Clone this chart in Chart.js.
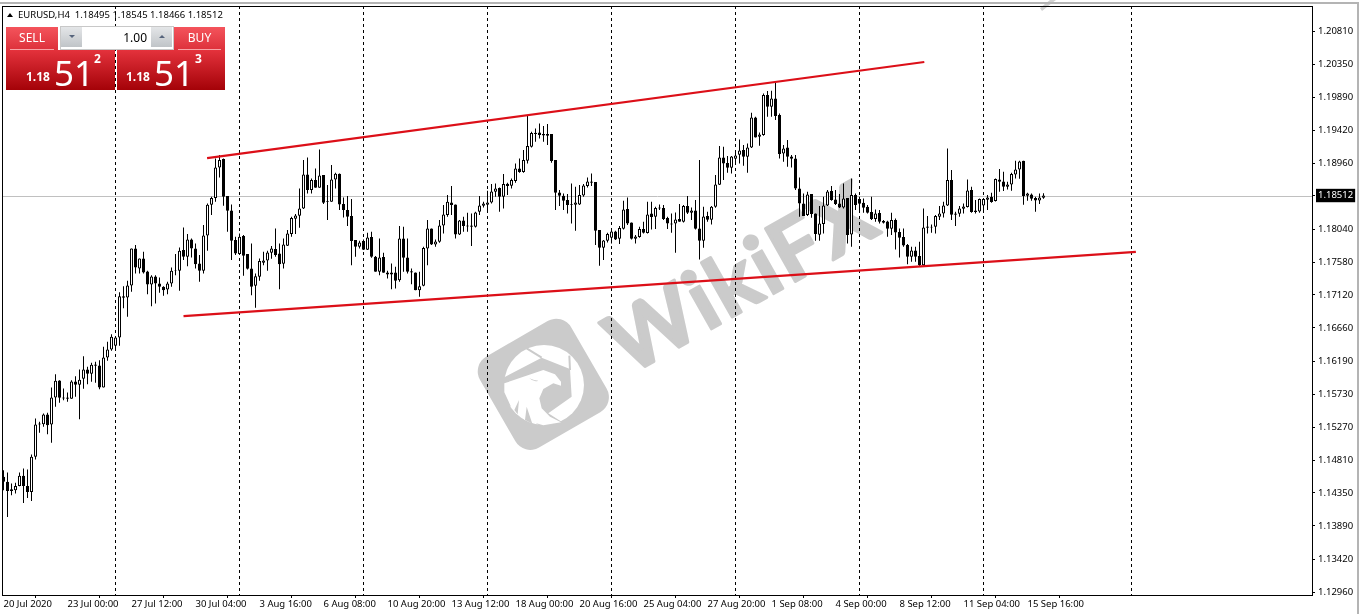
<!DOCTYPE html>
<html>
<head>
<meta charset="utf-8">
<title>EURUSD,H4</title>
<script src="https://cdn.jsdelivr.net/npm/chart.js@4"></script>
<style>
  html, body { margin: 0; padding: 0; background: #fff; }
  body { position: relative; width: 1363px; height: 614px; overflow: hidden; font-family: "Noto Sans", sans-serif; }
  #mark, #chart, #head, #panel, .edge { position: absolute; }
  #mark { left: 0; top: 0; }
  #chart { left: 0; top: 0; }
  .edge { background: #b4b4b4; }
  #head { left: 7px; top: 8px; font-size: 9.5px; line-height: 13px; color: #000; white-space: pre; }
  #head i { display: inline-block; width: 0; height: 0; border: 3px solid transparent; border-bottom: 4px solid #000; border-top: 0; margin: 0 5px 1px 0; }
  #panel { left: 6px; top: 26px; width: 219px; height: 64px; color: #fff; }
  #panel div { position: absolute; }
  .btn { top: 1px; height: 24px; background: linear-gradient(#f4545c, #dc2f39); font-size: 12px; line-height: 21px; text-align: center; }
  .btn span { position: absolute; left: 4px; right: 4px; top: 22px; height: 1px; background: #f7a3a6; }
  .price { top: 24px; height: 40px; background: linear-gradient(#e4323c, #a40208); }
  .big { font-size: 35px; line-height: 40px; top: 3px; }
  .small { font-size: 12px; font-weight: 700; top: 19px; line-height: 16px; }
  .sup { font-size: 12px; font-weight: 700; top: 1px; line-height: 16px; }
  #lots { left: 54px; top: 0; width: 86px; height: 22px; padding-right: 26px; background: #fff; border: 1px solid #c8c8c8; color: #000; font-size: 12px; line-height: 21px; text-align: right; z-index: 2; }
  .spin { top: 1px; width: 21px; height: 20px; background: linear-gradient(#e4e6e8, #c0c4c8); }
</style>
</head>
<body>
<svg id="mark" width="1363" height="614" xmlns="http://www.w3.org/2000/svg">
  <g transform="translate(475,315) scale(0.3333)" fill="#cbcbcb">
    <rect x="-158" y="-158" width="316" height="316" rx="52" transform="translate(205,208) rotate(-30)"/>
    <circle cx="207" cy="210" r="120" fill="#fff"/>
    <path d="M85 188 L200 128 L285 162 L290 245 L220 295 L262 322 L200 335 L85 260 Z"/>
    <path d="M155 100 L200 128 M283 122 L285 165" stroke="#cbcbcb" stroke-width="6" fill="none"/>
    <path d="M88 205 L205 165 L240 178 L258 200 L258 212 L235 205 L205 222 L193 250 L200 280 L225 305 L258 322 L205 331 L150 315 L108 275 L88 232 Z" fill="#fff"/>
    <path d="M163 190 Q178 203 190 197 Q178 197 163 190 Z M128 298 L132 255 L118 285 Z M172 326 L155 275 L150 315 Z"/>
  </g>
  <text transform="translate(628,376) rotate(-29.5)" font-family="Lato" font-weight="700" font-size="84" fill="#cbcbcb" stroke="#cbcbcb" stroke-width="3" stroke-linejoin="round" textLength="292" lengthAdjust="spacing">WikiFX</text>
  <path d="M1042 11 L1052 3 L1056 0 L1050 0 L1040 8 Z" fill="#d2d2d2"/>
</svg>
<canvas id="chart" width="1363" height="614"></canvas>
<div class="edge" style="left:0;top:2px;width:1359px;height:2px"></div>
<div class="edge" style="left:1357px;top:2px;width:2px;height:612px"></div>
<div id="head"><i></i>EURUSD,H4  1.18495 1.18545 1.18466 1.18512</div>
<div id="panel">
  <div class="btn" style="left:0;width:52px">SELL<span></span></div>
  <div class="btn" style="left:168px;width:51px">BUY<span></span></div>
  <div class="price" style="left:0;width:109px">
    <div class="small" style="left:20px">1.18</div>
    <div class="big" style="left:48px">51</div>
    <div class="sup" style="left:88px">2</div>
  </div>
  <div class="price" style="left:111px;width:108px">
    <div class="small" style="left:9px">1.18</div>
    <div class="big" style="left:37px">51</div>
    <div class="sup" style="left:78px">3</div>
  </div>
  <div id="lots">1.00</div>
  <div class="spin" style="left:55px;z-index:3"></div>
  <div class="spin" style="left:145px;z-index:3"></div>
  <div style="left:63px;top:9px;z-index:4;border:3px solid transparent;border-top:3px solid #56647c;border-bottom:0"></div>
  <div style="left:153px;top:9px;z-index:4;border:3px solid transparent;border-bottom:3px solid #56647c;border-top:0"></div>
</div>
<script>
const opens = [
1.14575,1.14505,1.14402,1.14388,1.14449,1.14589,1.14449,1.14365,1.14855,1.15321,
1.15312,1.15447,1.15307,1.15685,1.15923,1.15685,1.15685,1.15667,1.15909,1.15863,
1.15947,1.16077,1.16017,1.16147,1.16133,1.15825,1.16245,1.16357,1.16409,1.16525,
1.17104,1.17085,1.17253,1.17771,1.17491,1.17631,1.17449,1.17267,1.17379,1.17281,
1.17235,1.17197,1.17281,1.17468,1.17459,1.17748,1.17655,1.17897,1.17771,1.17561,
1.17459,1.17953,1.18383,1.18476,1.18905,1.19022,1.18504,1.18303,1.17888,1.17692,
1.17944,1.17692,1.17491,1.17249,1.17375,1.17571,1.17603,1.17711,1.17762,1.17701,
1.17557,1.17809,1.17972,1.18187,1.18229,1.18331,1.18807,1.18588,1.18728,1.18621,
1.18798,1.18434,1.18425,1.18737,1.18817,1.18392,1.18308,1.18224,1.17888,1.17795,
1.17874,1.17753,1.17930,1.17655,1.17445,1.17650,1.17435,1.17407,1.17435,1.17328,
1.17911,1.17645,1.17454,1.17435,1.17188,1.17249,1.17771,1.18051,1.17827,1.17865,
1.18093,1.18238,1.18415,1.18387,1.17967,1.18163,1.18093,1.18093,1.18075,1.18285,
1.18369,1.18383,1.18415,1.18565,1.18616,1.18495,1.18677,1.18649,1.18714,1.18891,
1.18840,1.18999,1.19195,1.19391,1.19395,1.19372,1.19372,1.19372,1.19008,1.18555,
1.18509,1.18448,1.18392,1.18383,1.18387,1.18513,1.18644,1.18709,1.18700,1.18028,
1.17781,1.17879,1.17921,1.18009,1.17907,1.18047,1.18322,1.18135,1.17907,1.17930,
1.18042,1.17986,1.18261,1.18215,1.18331,1.18336,1.18196,1.18121,1.18121,1.18182,
1.18145,1.18364,1.18271,1.18303,1.18051,1.17879,1.18224,1.18173,1.18355,1.18663,
1.19045,1.18966,1.18901,1.19027,1.19083,1.19148,1.19055,1.19185,1.19605,1.19335,
1.19358,1.19918,1.19755,1.19871,1.19638,1.19101,1.19185,1.19059,1.19031,1.18611,
1.18401,1.18238,1.18532,1.18261,1.17963,1.18112,1.18373,1.18574,1.18457,1.18401,
1.18345,1.18476,1.17967,1.18518,1.18462,1.18411,1.18355,1.18280,1.18182,1.18266,
1.18154,1.18149,1.18047,1.18168,1.18000,1.17930,1.17818,1.17655,1.17743,1.17664,
1.17538,1.18079,1.18065,1.18075,1.18215,1.18261,1.18373,1.18728,1.18261,1.18257,
1.18327,1.18350,1.18588,1.18303,1.18289,1.18373,1.18453,1.18490,1.18434,1.18737,
1.18709,1.18635,1.18667,1.18807,1.18877,1.18999,1.18509,1.18527,1.18476,1.18443,
1.18481];
const highs = [
1.14668,1.14635,1.14481,1.14491,1.14635,1.14691,1.14677,1.14887,1.15391,1.15345,
1.15461,1.15471,1.15825,1.16012,1.15928,1.15811,1.15755,1.15928,1.15984,1.16077,
1.16264,1.16115,1.16171,1.16185,1.16208,1.16395,1.16465,1.16572,1.16544,1.17160,
1.17244,1.17319,1.17771,1.17818,1.17631,1.17725,1.17459,1.17398,1.17398,1.17365,
1.17244,1.17305,1.17505,1.17692,1.17785,1.18065,1.17972,1.17911,1.17841,1.17678,
1.18098,1.18401,1.18495,1.19031,1.19078,1.19031,1.18504,1.18387,1.17935,1.17981,
1.17958,1.17692,1.17841,1.17421,1.17631,1.17725,1.17739,1.17804,1.18051,1.17841,
1.17911,1.18028,1.18215,1.18252,1.18611,1.19008,1.19045,1.18751,1.18891,1.19157,
1.18798,1.18658,1.18938,1.18831,1.18821,1.18485,1.18504,1.18462,1.17888,1.17879,
1.17897,1.17991,1.18005,1.17664,1.17911,1.17711,1.17459,1.17561,1.17515,1.18084,
1.18075,1.17911,1.17491,1.17435,1.17445,1.17795,1.18168,1.18051,1.17897,1.18168,
1.18378,1.18518,1.18644,1.18387,1.18168,1.18215,1.18271,1.18261,1.18285,1.18504,
1.18425,1.18579,1.18672,1.18681,1.18625,1.18812,1.18691,1.18751,1.18961,1.19031,
1.19148,1.19638,1.19405,1.19451,1.19521,1.19484,1.19512,1.19372,1.19008,1.18588,
1.18541,1.18532,1.18681,1.18635,1.18658,1.18672,1.18765,1.18821,1.18700,1.18028,
1.17888,1.17991,1.18051,1.18018,1.18084,1.18439,1.18485,1.18135,1.17958,1.18075,
1.18145,1.18425,1.18425,1.18355,1.18387,1.18378,1.18215,1.18261,1.18275,1.18392,
1.18378,1.18504,1.18345,1.18448,1.19008,1.18355,1.18285,1.18364,1.18798,1.19204,
1.19195,1.19064,1.19064,1.19125,1.19297,1.19218,1.19241,1.19671,1.19615,1.19395,
1.19941,1.19974,1.19979,1.20091,1.19661,1.19218,1.19288,1.19078,1.19078,1.18765,
1.18541,1.18565,1.18532,1.18261,1.18364,1.18495,1.18588,1.18644,1.18588,1.18532,
1.18681,1.18476,1.18751,1.18541,1.18495,1.18471,1.18378,1.18495,1.18317,1.18308,
1.18168,1.18159,1.18271,1.18191,1.18051,1.18051,1.17832,1.17795,1.17795,1.17865,
1.18331,1.18224,1.18107,1.18238,1.18364,1.18425,1.19171,1.18868,1.18285,1.18364,
1.18401,1.18737,1.18635,1.18448,1.18471,1.18471,1.18518,1.18551,1.18751,1.18882,
1.18845,1.18705,1.18831,1.18999,1.18999,1.18999,1.18551,1.18541,1.18495,1.18541,
1.18545];
const lows = [
1.14388,1.14015,1.14318,1.14341,1.14444,1.14211,1.14281,1.14239,1.14817,1.15191,
1.15275,1.15172,1.15051,1.15555,1.15611,1.15648,1.15625,1.15667,1.15695,1.15382,
1.15807,1.15872,1.15905,1.15891,1.15802,1.15825,1.16199,1.16339,1.16339,1.16409,
1.16936,1.16815,1.17165,1.17421,1.17421,1.17421,1.17132,1.16964,1.17001,1.17151,
1.17109,1.17132,1.17235,1.17398,1.17179,1.17608,1.17524,1.17645,1.17490,1.17305,
1.17421,1.17739,1.18238,1.18425,1.18765,1.18369,1.18005,1.17608,1.17678,1.17678,
1.17389,1.17477,1.17118,1.16941,1.17319,1.17538,1.17459,1.17627,1.17655,1.17202,
1.17491,1.17804,1.17935,1.17972,1.18061,1.18322,1.18541,1.18541,1.18621,1.18621,
1.18392,1.18168,1.18425,1.18611,1.18308,1.18205,1.18084,1.17538,1.17655,1.17771,
1.17748,1.17748,1.17641,1.17445,1.17398,1.17431,1.17351,1.17202,1.17211,1.17305,
1.17445,1.17421,1.17272,1.17188,1.17095,1.17244,1.17538,1.17818,1.17795,1.17851,
1.17981,1.18215,1.18238,1.17911,1.17958,1.18005,1.18005,1.17804,1.18065,1.18238,
1.18345,1.18271,1.18401,1.18495,1.18285,1.18331,1.18518,1.18611,1.18691,1.18831,
1.18831,1.18961,1.19185,1.19265,1.19311,1.19265,1.19218,1.18971,1.18308,1.18364,
1.18308,1.18261,1.18121,1.18019,1.18378,1.18495,1.18625,1.18644,1.17818,1.17529,
1.17608,1.17855,1.17841,1.17888,1.17832,1.18037,1.18098,1.17897,1.17841,1.17921,
1.17981,1.17981,1.18037,1.18042,1.18308,1.18168,1.18042,1.17991,1.17711,1.18145,
1.18135,1.18252,1.18168,1.18037,1.17617,1.17781,1.18145,1.18107,1.18341,1.18658,
1.18728,1.18831,1.18821,1.18938,1.18961,1.18929,1.18831,1.19176,1.19325,1.19209,
1.19349,1.19615,1.19615,1.19568,1.19031,1.18985,1.18915,1.18905,1.18588,1.18215,
1.18224,1.18224,1.18201,1.17879,1.17879,1.17981,1.18364,1.18439,1.18378,1.18336,
1.18331,1.17841,1.17795,1.18308,1.18285,1.18271,1.18261,1.18168,1.18145,1.18121,
1.18121,1.17935,1.17958,1.17757,1.17645,1.17795,1.17552,1.17585,1.17585,1.17524,
1.17529,1.17981,1.17991,1.17981,1.18168,1.18205,1.18364,1.18168,1.18084,1.18215,
1.18261,1.18345,1.18271,1.18261,1.18271,1.18271,1.18308,1.18411,1.18429,1.18565,
1.18574,1.18597,1.18579,1.18751,1.18747,1.18383,1.18439,1.18439,1.18285,1.18392,
1.18466];
const closes = [
1.14505,1.14379,1.14379,1.14449,1.14589,1.14449,1.14365,1.14855,1.15307,1.15307,
1.15447,1.15298,1.15685,1.15919,1.15681,1.15671,1.15667,1.15909,1.15863,1.15933,
1.16077,1.16017,1.16143,1.16129,1.15825,1.16245,1.16357,1.16535,1.16525,1.17104,
1.17081,1.17253,1.17771,1.17505,1.17631,1.17435,1.17267,1.17379,1.17281,1.17235,
1.17188,1.17281,1.17459,1.17459,1.17739,1.17655,1.17897,1.17771,1.17552,1.17459,
1.17953,1.18383,1.18476,1.18905,1.19008,1.18495,1.18299,1.17879,1.17701,1.17935,
1.17669,1.17487,1.17235,1.17384,1.17594,1.17603,1.17715,1.17771,1.17678,1.17552,
1.17827,1.17981,1.18196,1.18233,1.18331,1.18807,1.18588,1.18728,1.18621,1.18793,
1.18411,1.18425,1.18737,1.18817,1.18387,1.18308,1.18215,1.17874,1.17795,1.17855,
1.17753,1.17925,1.17655,1.17445,1.17645,1.17431,1.17407,1.17435,1.17319,1.17911,
1.17641,1.17445,1.17435,1.17188,1.17244,1.17776,1.18051,1.17827,1.17869,1.18093,
1.18247,1.18425,1.18378,1.17967,1.18163,1.18084,1.18079,1.18075,1.18275,1.18373,
1.18401,1.18415,1.18569,1.18611,1.18495,1.18672,1.18644,1.18728,1.18891,1.18840,
1.19008,1.19204,1.19386,1.19372,1.19358,1.19353,1.19349,1.18994,1.18551,1.18509,
1.18439,1.18378,1.18383,1.18415,1.18518,1.18653,1.18709,1.18691,1.18019,1.17781,
1.17883,1.17972,1.18009,1.17897,1.18056,1.18317,1.18121,1.17907,1.17939,1.18042,
1.17991,1.18247,1.18210,1.18336,1.18345,1.18182,1.18121,1.18107,1.18177,1.18145,
1.18364,1.18271,1.18303,1.18047,1.17879,1.18219,1.18173,1.18355,1.18667,1.19045,
1.18961,1.18901,1.19059,1.19073,1.19143,1.19055,1.19185,1.19605,1.19325,1.19367,
1.19918,1.19755,1.19871,1.19624,1.19092,1.19171,1.19055,1.19027,1.18611,1.18401,
1.18224,1.18527,1.18252,1.17972,1.18121,1.18373,1.18569,1.18448,1.18392,1.18345,
1.18471,1.17958,1.18518,1.18378,1.18397,1.18341,1.18271,1.18182,1.18261,1.18145,
1.18131,1.18047,1.18168,1.17995,1.17921,1.17813,1.17655,1.17743,1.17655,1.17538,
1.18065,1.18061,1.18075,1.18224,1.18261,1.18373,1.18728,1.18243,1.18243,1.18331,
1.18359,1.18583,1.18280,1.18280,1.18462,1.18462,1.18485,1.18420,1.18742,1.18705,
1.18635,1.18667,1.18812,1.18877,1.18989,1.18504,1.18541,1.18467,1.18443,1.18485,
1.18512];
const priceTicks = [1.12960,1.13420,1.13890,1.14350,1.14810,1.15270,1.15730,1.16190,1.16660,1.17120,1.17580,1.18040,1.18512,1.18960,1.19420,1.19890,1.20350,1.20810];
const timeLabels = ['20 Jul 2020','23 Jul 00:00','27 Jul 12:00','30 Jul 04:00','3 Aug 16:00','6 Aug 08:00','10 Aug 20:00','13 Aug 12:00','18 Aug 00:00','20 Aug 16:00','25 Aug 04:00','27 Aug 20:00','1 Sep 08:00','4 Sep 00:00','8 Sep 12:00','11 Sep 04:00','15 Sep 16:00'];
const barsPerLabel = 16;
const separators = [28, 59, 90, 121, 152, 183, 214, 245, 282];
const bid = 1.18512;
const upperTrend = [{x: 50.9, y: 1.19036}, {x: 230.2, y: 1.20380}];
const lowerTrend = [{x: 45, y: 1.16824}, {x: 283.1, y: 1.17724}];

// dashed period lines, bid line and the chart frame
const chartDecor = {
  id: 'chartDecor',
  beforeDatasetsDraw(chart) {
    const {ctx, chartArea: a, scales: {x, y}} = chart;
    ctx.save();
    ctx.strokeStyle = '#000';
    ctx.lineWidth = 1;
    ctx.setLineDash([3, 3]);
    separators.forEach(s => {
      const px = Math.floor(x.getPixelForValue(s)) + 0.5;
      ctx.beginPath();
      ctx.moveTo(px, a.top);
      ctx.lineTo(px, a.bottom);
      ctx.stroke();
    });
    ctx.setLineDash([]);
    ctx.strokeStyle = '#c0c0c0';
    const py = Math.round(y.getPixelForValue(bid)) + 0.5;
    ctx.beginPath();
    ctx.moveTo(a.left, py);
    ctx.lineTo(a.right, py);
    ctx.stroke();
    ctx.restore();
  },
  afterDraw(chart) {
    const {ctx, chartArea: a} = chart;
    ctx.save();
    ctx.strokeStyle = '#000';
    ctx.lineWidth = 1;
    ctx.strokeRect(a.left - 0.5, a.top + 0.5, a.right - a.left + 1, a.bottom - a.top);
    ctx.restore();
  }
};

const trendStyle = {type: 'line', borderColor: '#dc0f18', borderWidth: 2.2, pointRadius: 0, order: 0};

new Chart(document.getElementById('chart'), {
  type: 'bar',
  data: {
    datasets: [
      Object.assign({data: upperTrend}, trendStyle),
      Object.assign({data: lowerTrend}, trendStyle),
      {
        data: opens.map((o, i) => ({x: i, y: [o, closes[i]]})),
        backgroundColor: opens.map((o, i) => closes[i] >= o ? '#fff' : '#000'),
        borderColor: '#000',
        borderWidth: 1,
        borderSkipped: false,
        inflateAmount: 0,
        barThickness: 3,
        grouped: false,
        order: 1
      },
      {
        data: highs.map((h, i) => ({x: i, y: [lows[i], h]})),
        backgroundColor: '#000',
        borderWidth: 0,
        inflateAmount: 0,
        barThickness: 1,
        grouped: false,
        order: 2
      }
    ]
  },
  options: {
    responsive: false,
    animation: false,
    events: [],
    layout: {padding: {left: 3, top: 6}},
    plugins: {legend: {display: false}, tooltip: {enabled: false}},
    scales: {
      x: {
        type: 'linear',
        min: -0.125,
        max: 327.125,
        offset: false,
        grid: {drawOnChartArea: false, color: '#000', tickLength: 3},
        border: {color: '#000'},
        afterBuildTicks: axis => { axis.ticks = timeLabels.map((_, k) => ({value: k * barsPerLabel})); },
        afterFit: axis => { axis.height = 19; axis.paddingLeft = 0; axis.paddingRight = 0; },
        ticks: {
          autoSkip: false,
          maxRotation: 0,
          align: 'start',
          padding: 1,
          color: '#000',
          font: {family: 'Noto Sans', size: 9.5},
          callback: v => timeLabels[v / barsPerLabel]
        }
      },
      y: {
        position: 'right',
        min: 1.12922,
        max: 1.21164,
        grid: {drawOnChartArea: false, color: '#000', tickLength: 3},
        border: {color: '#000'},
        afterBuildTicks: axis => { axis.ticks = priceTicks.map(v => ({value: v})); },
        afterFit: axis => { axis.width = 51; axis.paddingTop = 0; axis.paddingBottom = 0; },
        ticks: {
          autoSkip: false,
          padding: 3,
          font: {family: 'Noto Sans', size: 9.5},
          color: c => c.tick.value === bid ? '#fff' : '#000',
          showLabelBackdrop: c => c.tick.value === bid,
          backdropColor: '#000',
          backdropPadding: {x: 2, y: 1},
          callback: v => v.toFixed(5)
        }
      }
    }
  },
  plugins: [chartDecor]
});
</script>
</body>
</html>
